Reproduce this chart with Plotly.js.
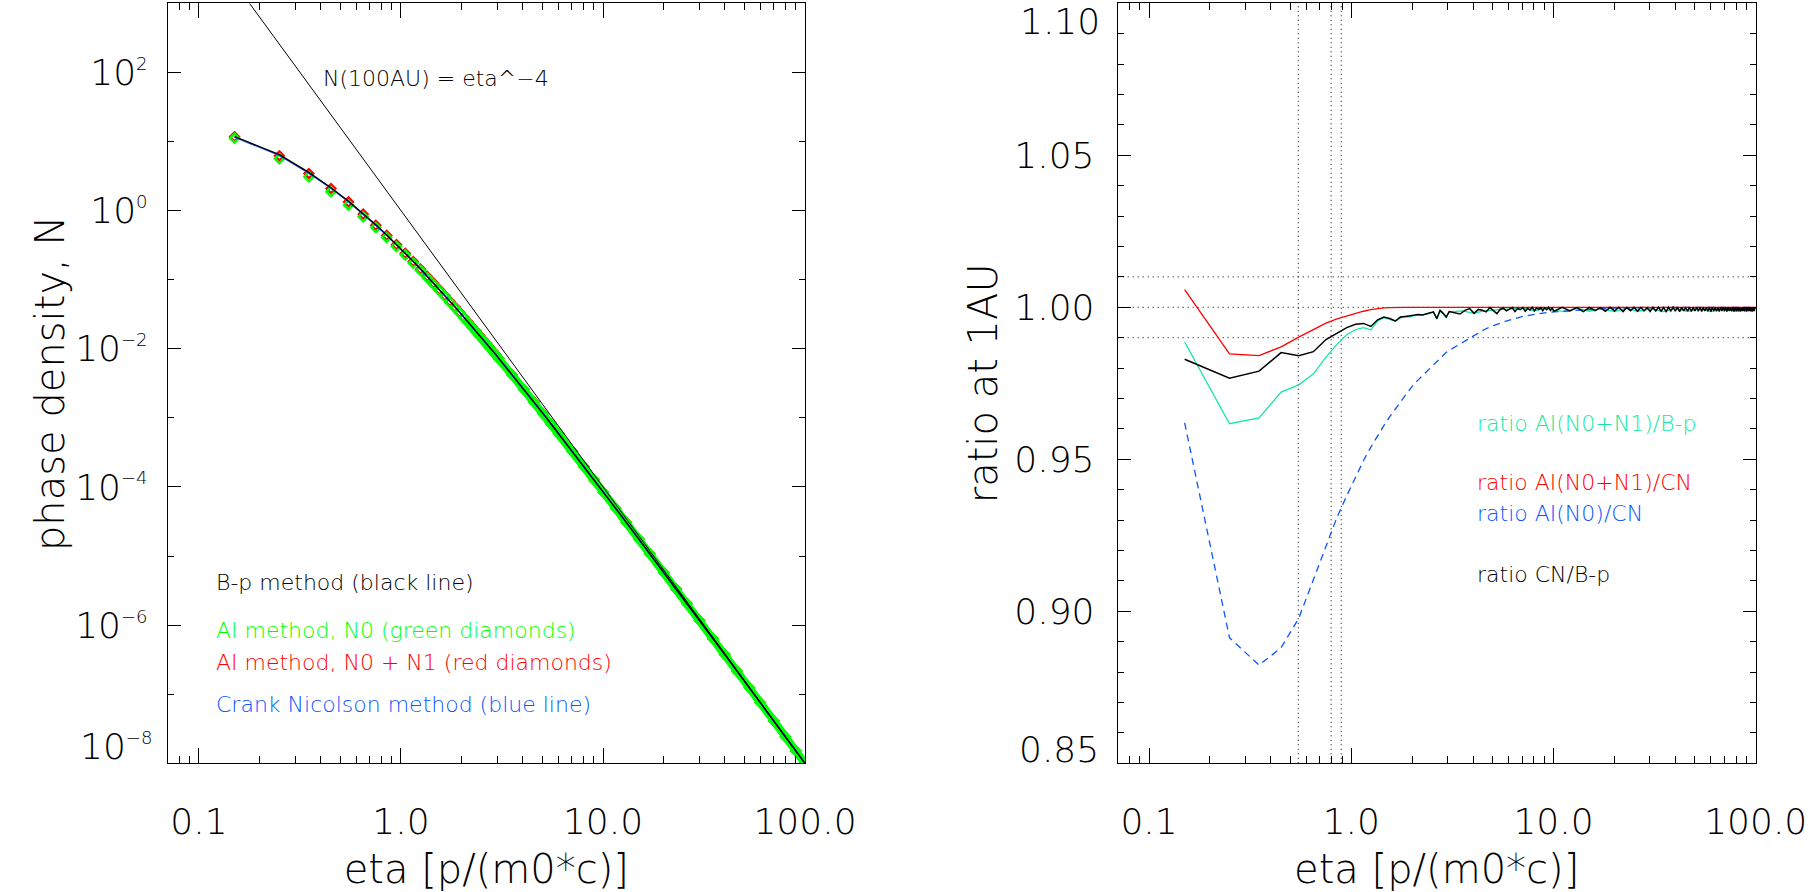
<!DOCTYPE html>
<html>
<head>
<meta charset="utf-8">
<script src="https://cdn.plot.ly/plotly-3.0.1.min.js"></script>
<style>
html,body{margin:0;padding:0;background:#fff;}
#plot{width:1812px;height:892px;}
</style>
</head>
<body>
<div id="plot"></div>
<script>
// ---------------- data ----------------
// momentum grid eta = p/(m0*c) (subset of the model grid)
const eta = [0.15,0.25,0.35,0.45,0.55,0.65,0.75,0.85,0.95,1.05,1.15,1.25,1.35,1.45,1.55,1.65,1.75,1.85,1.95,2.05,2.15,2.25,2.35,2.45,2.55,2.65,2.75,2.85,2.95,3.05,3.55,4.05,4.55,5.05,5.55,6.05,7.05,8.05,9.05,10.05,11.55,13.05,15.05,17.05,20.05,23.05,26.05,30.05,35.05,40.05,46.05,53.05,60.05,70.05,80.05,90.05,99.95];

// phase density at 1 AU
const nBp = [11.81,6.445,3.566,2.145,1.368,0.9065,0.6224,0.4429,0.3239,0.2419,0.1841,0.1427,0.1120,0.08909,0.07185,0.05870,0.04835,0.04030,0.03391,0.02866,0.02444,0.02095,0.01807,0.01566,0.01364,0.01195,0.01049,0.009266,0.008213,0.007254,0.004212,0.002611,0.001699,0.001154,8.078e-4,5.836e-4,3.274e-4,1.973e-4,1.259e-4,8.398e-5,4.910e-5,3.062e-5,1.758e-5,1.081e-5,5.742e-6,3.319e-6,2.051e-6,1.169e-6,6.369e-7,3.758e-7,2.163e-7,1.236e-7,7.552e-8,4.102e-8,2.410e-8,1.510e-8,9.98e-9];
const nCN = [11.61,6.295,3.491,2.113,1.346,0.8933,0.6158,0.4391,0.3217,0.2405,0.1831,0.1418,0.1115,0.08881,0.07163,0.05844,0.04819,0.04018,0.03381,0.02858,0.02438,0.02089,0.01803,0.01563,0.01361,0.01191,0.01047,0.009247,0.008185,0.007244,0.004207,0.002606,0.001698,0.001153,8.072e-4,5.834e-4,3.273e-4,1.972e-4,1.259e-4,8.395e-5,4.909e-5,3.062e-5,1.758e-5,1.081e-5,5.741e-6,3.319e-6,2.051e-6,1.169e-6,6.368e-7,3.758e-7,2.163e-7,1.236e-7,7.551e-8,4.102e-8,2.410e-8,1.510e-8,9.98e-9];
const nAI0 = [11.17,5.611,3.080,1.876,1.208,0.8134,0.5672,0.4088,0.3018,0.2271,0.1739,0.1353,0.1068,0.08536,0.06905,0.05649,0.04670,0.03901,0.03290,0.02786,0.02380,0.02042,0.01765,0.01532,0.01335,0.01170,0.01030,0.009102,0.008064,0.007140,0.004159,0.002582,0.001686,0.001146,8.032e-4,5.810e-4,3.263e-4,1.967e-4,1.257e-4,8.382e-5,4.904e-5,3.059e-5,1.757e-5,1.080e-5,5.739e-6,3.318e-6,2.051e-6,1.169e-6,6.368e-7,3.758e-7,2.163e-7,1.236e-7,7.551e-8,4.102e-8,2.410e-8,1.510e-8,9.98e-9];
const nAI01 = [11.68,6.199,3.436,2.087,1.333,0.8869,0.6126,0.4374,0.3208,0.2400,0.1829,0.1417,0.1115,0.08879,0.07163,0.05844,0.04819,0.04018,0.03381,0.02858,0.02438,0.02089,0.01803,0.01563,0.01361,0.01191,0.01047,0.009247,0.008185,0.007244,0.004207,0.002606,0.001698,0.001153,8.072e-4,5.834e-4,3.273e-4,1.972e-4,1.259e-4,8.395e-5,4.909e-5,3.062e-5,1.758e-5,1.081e-5,5.741e-6,3.319e-6,2.051e-6,1.169e-6,6.368e-7,3.758e-7,2.163e-7,1.236e-7,7.551e-8,4.102e-8,2.410e-8,1.510e-8,9.98e-9];

// reference spectrum N(100AU) = eta^-4
const refEta = [0.1778,1,10,100];
const refN = [1000,1,1e-4,1e-8];

// ratios at 1 AU
const ratioAI01_Bp = [0.9886,0.9617,0.9636,0.9721,0.9745,0.9781,0.9836,0.9878,0.9910,0.9927,0.9933,0.9926,0.9955,0.9966,0.9960,0.9954,0.9965,0.9969,0.9968,0.9973,0.9975,0.9974,0.9978,0.9981,0.9983,0.9961,0.9988,0.9978,0.9966,0.9985,0.9988,0.9980,0.9989,0.9990,0.9995,0.9994,0.9998,0.9988,0.9997,0.9990,0.9986,0.9998,0.9987,0.9996,0.9986,0.9997,0.9987,0.9995,0.9986,0.9996,0.9987,0.9995,0.9986,0.9996,0.9987,0.9995,0.9988];
const ratioAI01_CN = [1.0058,0.9847,0.9841,0.9870,0.9902,0.9928,0.9948,0.9962,0.9972,0.9980,0.9987,0.9992,0.9996,0.9998,0.9999,1,1,1,1,1,1,1,1,1,1,1,1,1,1,1,1,1,1,1,1,1,1,1,1,1,1,1,1,1,1,1,1,1,1,1,1,1,1,1,1,1,1];
const ratioAI0_CN = [0.9620,0.8913,0.8823,0.8880,0.8977,0.9106,0.9210,0.9309,0.9380,0.9441,0.9496,0.9540,0.9578,0.9611,0.9640,0.9666,0.9690,0.9710,0.9730,0.9749,0.9762,0.9775,0.9787,0.9799,0.9810,0.9821,0.9833,0.9843,0.9852,0.9858,0.9885,0.9908,0.9927,0.9940,0.9950,0.9958,0.9970,0.9977,0.9982,0.9985,0.9988,0.9991,0.9993,0.9995,0.9997,0.9998,0.9999,1,1,1,1,1,1,1,1,1,1];

// CN / B-p on the finer grid (noisy at high eta)
const etaFine = [0.15,0.25,0.35,0.45,0.55,0.65,0.75,0.85,0.95,1.05,1.15,1.25,1.35,1.45,1.55,1.65,1.75,1.85,1.95,2.05,2.15,2.25,2.35,2.45,2.55,2.65,2.75,2.85,2.95,
 3.05,3.25,3.45,3.65,3.85,4.05,4.25,4.45,4.65,4.85,5.05,5.25,5.45,5.65,5.85,6.05,6.25,6.45,6.65,6.85,7.05,7.25,7.45,7.65,7.85,8.05,8.25,8.45,8.65,8.85,9.05,9.25,9.45,9.65,9.85,
 10.05,11.05,12.05,13.05,14.05,15.05,16.05,17.05,18.05,19.05,20.05,21.05,22.05,23.05,24.05,25.05,26.05,27.05,28.05,29.05,
 30.05,31.05,32.05,33.05,34.05,35.05,36.05,37.05,38.05,39.05,40.05,41.05,42.05,43.05,44.05,45.05,46.05,47.05,48.05,49.05,
 50.05,51.05,52.05,53.05,54.05,55.05,56.05,57.05,58.05,59.05,60.05,61.05,62.05,63.05,64.05,65.05,66.05,67.05,68.05,69.05,
 70.05,71.05,72.05,73.05,74.05,75.05,76.05,77.05,78.05,79.05,80.05,81.05,82.05,83.05,84.05,85.05,86.05,87.05,88.05,89.05,
 90.05,91.05,92.05,93.05,94.05,95.05,96.05,97.05,98.05,99.05,99.95];
const ratioCN_Bp = [0.9829,0.9767,0.9790,0.9851,0.9841,0.9854,0.9894,0.9915,0.9933,0.9944,0.9947,0.9937,0.9959,0.9968,0.9963,0.9955,0.9968,0.9970,0.9972,0.9974,0.9976,0.9975,0.9979,0.9982,0.9985,0.9963,0.9990,0.9980,0.9968,
 0.9986,0.9982,0.9978,0.9990,0.9996,0.9980,0.9993,0.9990,0.9985,0.9999,0.9990,0.9979,0.9993,0.9997,0.9988,0.9995,0.9999,0.9986,0.9996,0.9992,0.9999,0.9987,0.9997,0.9991,1.0000,0.9988,0.9998,0.9993,0.9999,0.9989,0.9998,0.9992,1.0000,0.9990,0.9999,
 0.9987,1.0,0.9988,0.9999,0.9986,1.0,0.9989,0.9999,0.9987,1.0,0.9988,1.0,0.9986,0.9999,0.9989,1.0,0.9987,1.0,0.9988,0.9999,
 0.9986,1.0,0.9988,1.0,0.9987,0.9999,0.9986,1.0,0.9988,1.0,0.9987,1.0,0.9986,1.0,0.9988,0.9999,0.9987,1.0,0.9986,1.0,
 0.9988,1.0,0.9987,1.0,0.9986,0.9999,0.9988,1.0,0.9987,1.0,0.9986,1.0,0.9988,1.0,0.9987,0.9999,0.9986,1.0,0.9988,1.0,
 0.9987,1.0,0.9986,1.0,0.9988,0.9999,0.9987,1.0,0.9986,1.0,0.9988,1.0,0.9987,1.0,0.9986,0.9999,0.9988,1.0,0.9987,1.0,
 0.9986,1.0,0.9988,1.0,0.9987,0.9999,0.9986,1.0,0.9988,1.0,0.9993];

// guide lines in the ratio panel
const guideEta = [0.547,0.795,0.892];
const guideRatio = [0.99,1.00,1.01];

// axis settings
const xRangeVals = [0.07,100];
const yRangeRatio = [0.85,1.10];
const xTickVals = [0.1,1,10,100];
const xTickText = ['0.1','1.0','10.0','100.0'];
const yTickValsN = [1e-6,1e-4,1e-2,1,1e2];
const yTickTextN = ['10<sup><span style="font-size:18px">−6</span></sup>','10<sup><span style="font-size:18px">−4</span></sup>','10<sup><span style="font-size:18px">−2</span></sup>','10<sup><span style="font-size:18px">0</span></sup>','10<sup><span style="font-size:18px">2</span></sup>'];
const yTickValsR = [0.90,0.95,1.00,1.05];
const yTickTextR = ['0.90','0.95','1.00','1.05'];

// ---------------- styling ----------------
const FAM = 'DejaVu Sans, sans-serif';
const W = 1812, H = 892;
const GREEN = '#00ff00', RED = '#ff0000', BLUE = '#0a55ff', TEAL = '#14e8a0';

const xMinor = [];
[0.01,0.1,1,10].forEach(d => { for (let k = 2; k <= 9; k++) xMinor.push(+(k*d).toPrecision(3)); });

function xAxis(domain, anchor) {
  return {
    type:'log', range:[Math.log10(xRangeVals[0]), Math.log10(xRangeVals[1])], domain:domain, anchor:anchor,
    showline:true, linecolor:'#000', linewidth:1, mirror:'ticks', showgrid:false, zeroline:false,
    ticks:'inside', ticklen:15, tickwidth:1, tickcolor:'#000',
    tickmode:'array', tickvals:xTickVals, ticktext:xTickText,
    ticklabelstandoff:26,
    tickfont:{family:FAM, size:36, color:'#000', weight:200},
    minor:{tickmode:'array', tickvals:xMinor, ticks:'inside', ticklen:7, tickwidth:1, tickcolor:'#000', showgrid:false},
    title:{text:'eta [p/(m0*c)]', font:{family:FAM, size:40, color:'#000', weight:200}, standoff:18}
  };
}
const yDom = [(H-763.3)/H, (H-3.3)/H];

const data = [
  // ---- left panel ----
  {x:eta, y:nAI01, xaxis:'x', yaxis:'y', mode:'markers', name:'AI method, N0 + N1',
   marker:{symbol:'diamond-open', size:7, color:RED, line:{width:2.2, color:RED}}},
  {x:eta.slice(19), y:nAI0.slice(19), xaxis:'x', yaxis:'y', mode:'lines', name:'AI N0 band',
   line:{color:GREEN, width:8}},
  {x:eta, y:nAI0, xaxis:'x', yaxis:'y', mode:'markers', name:'AI method, N0',
   marker:{symbol:'diamond-open', size:7, color:GREEN, line:{width:2.4, color:GREEN}}},
  {x:eta, y:nCN, xaxis:'x', yaxis:'y', mode:'lines', name:'Crank Nicolson', line:{color:BLUE, width:1.6}},
  {x:eta, y:nBp, xaxis:'x', yaxis:'y', mode:'lines', name:'B-p method', line:{color:'#000', width:1.3}},
  {x:refEta, y:refN, xaxis:'x', yaxis:'y', mode:'lines', name:'eta^-4', line:{color:'#000', width:1}},
  // ---- right panel ----
  {x:guideEta.flatMap(v=>[v,v,null]), y:guideEta.flatMap(()=>[yRangeRatio[0],yRangeRatio[1],null]),
   xaxis:'x2', yaxis:'y2', mode:'lines', line:{color:'#000', width:1, dash:'1px,3.5px'}, connectgaps:false},
  {x:guideRatio.flatMap(()=>[xRangeVals[0],xRangeVals[1],null]), y:guideRatio.flatMap(v=>[v,v,null]),
   xaxis:'x2', yaxis:'y2', mode:'lines', line:{color:'#000', width:1, dash:'1px,4px'}, connectgaps:false},
  {x:eta, y:ratioAI01_Bp, xaxis:'x2', yaxis:'y2', mode:'lines', name:'ratio AI(N0+N1)/B-p', line:{color:TEAL, width:1.3}},
  {x:eta, y:ratioAI0_CN, xaxis:'x2', yaxis:'y2', mode:'lines', name:'ratio AI(N0)/CN', line:{color:BLUE, width:1.3, dash:'7px,5px'}},
  {x:eta, y:ratioAI01_CN, xaxis:'x2', yaxis:'y2', mode:'lines', name:'ratio AI(N0+N1)/CN', line:{color:RED, width:1.3}},
  {x:etaFine, y:ratioCN_Bp, xaxis:'x2', yaxis:'y2', mode:'lines', name:'ratio CN/B-p', line:{color:'#000', width:1.5}}
];

function ann(text, px, py, color, opts) {
  return Object.assign({text:text, x:px/W, y:1-py/H, xref:'paper', yref:'paper', showarrow:false,
    xanchor:'left', yanchor:'middle', font:{family:FAM, size:22, color:color, weight:200}}, opts||{});
}
const TICKFONT = {family:FAM, size:36, color:'#000', weight:200};

const annotations = [
  ann('N(100AU) = eta^−4', 321, 78, '#000'),
  ann('B-p method (black line)', 214, 582, '#000'),
  ann('AI method, N0 (green diamonds)', 214, 630, GREEN),
  ann('AI method, N0 + N1 (red diamonds)', 214, 662, RED),
  ann('Crank Nicolson method (blue line)', 214, 704, BLUE),
  ann('ratio AI(N0+N1)/B-p', 1475, 423, TEAL),
  ann('ratio AI(N0+N1)/CN', 1475, 483, RED),
  ann('ratio AI(N0)/CN', 1475, 513, BLUE),
  ann('ratio CN/B-p', 1475, 574, '#000'),
  // end-of-axis tick labels, shifted inside the axis range as in the original
  ann('1.10', 1101, 0, '#000', {xanchor:'right', yanchor:'top', borderpad:0, font:TICKFONT}),
  ann('0.85', 1101, 749, '#000', {xanchor:'right', font:TICKFONT}),
  ann('10<sup><span style="font-size:18px">−8</span></sup>', 154, 746, '#000', {xanchor:'right', font:TICKFONT})
];

const layout = {
  width:W, height:H, margin:{l:0, r:0, t:0, b:0},
  paper_bgcolor:'#fff', plot_bgcolor:'#fff', showlegend:false,
  font:{family:FAM, color:'#000', weight:200},
  xaxis: xAxis([167.7/W, 805/W], 'y'),
  xaxis2: xAxis([1117.7/W, 1755.7/W], 'y2'),
  yaxis: {
    type:'log', range:[-8, 3], domain:yDom, anchor:'x',
    showline:true, linecolor:'#000', linewidth:1, mirror:'ticks', showgrid:false, zeroline:false,
    ticks:'inside', ticklen:13, tickwidth:1, tickcolor:'#000',
    tickmode:'array', tickvals:yTickValsN, ticktext:yTickTextN, ticklabelstandoff:12,
    tickfont:TICKFONT,
    minor:{tickmode:'array', tickvals:[1e-7,1e-5,1e-3,1e-1,1e1,1e3], ticks:'inside', ticklen:6, tickwidth:1, tickcolor:'#000', showgrid:false},
    title:{text:'phase density, N', font:{family:FAM, size:40, color:'#000', weight:200}}
  },
  yaxis2: {
    range:yRangeRatio, domain:yDom, anchor:'x2', automargin:true,
    showline:true, linecolor:'#000', linewidth:1, mirror:'ticks', showgrid:false, zeroline:false,
    ticks:'inside', ticklen:13, tickwidth:1, tickcolor:'#000',
    tickmode:'array', tickvals:yTickValsR, ticktext:yTickTextR, ticklabelstandoff:15,
    tickfont:TICKFONT,
    minor:{dtick:0.01, ticks:'inside', ticklen:6, tickwidth:1, tickcolor:'#000', showgrid:false},
    title:{text:'ratio at 1AU', font:{family:FAM, size:40, color:'#000', weight:200}, standoff:4}
  },
  annotations: annotations
};

Plotly.newPlot('plot', data, layout, {staticPlot:true, displayModeBar:false});
</script>
</body>
</html>
